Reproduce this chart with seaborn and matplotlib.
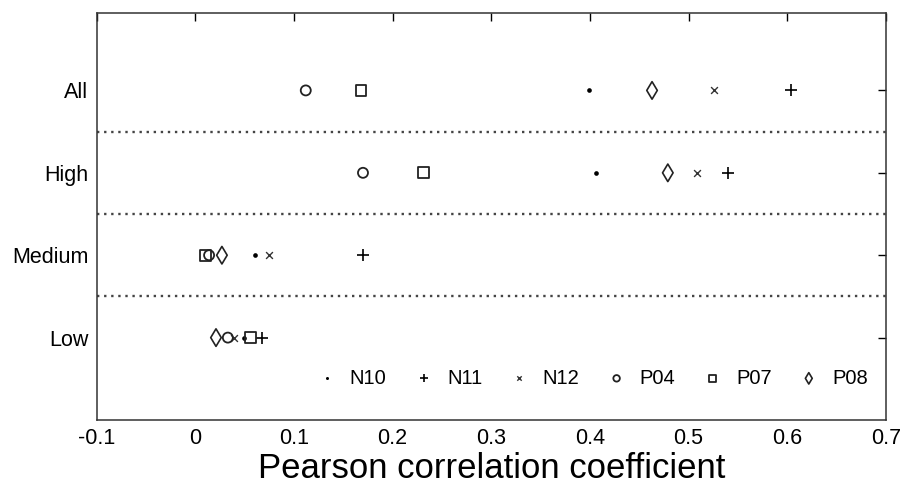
import matplotlib
matplotlib.use("Agg")
import matplotlib.pyplot as plt
import seaborn as sns
import pandas as pd

categories = ["Low", "Medium", "High", "All"]
series_names = ["N10", "N11", "N12", "P04", "P07", "P08"]
n10 = [0.049, 0.061, 0.406, 0.399]
n11 = [0.068, 0.170, 0.540, 0.604]
n12 = [0.039, 0.075, 0.509, 0.526]
p04 = [0.033, 0.014, 0.170, 0.112]
p07 = [0.056, 0.010, 0.231, 0.168]
p08 = [0.021, 0.027, 0.479, 0.463]
x_ticks = [-0.1, 0, 0.1, 0.2, 0.3, 0.4, 0.5, 0.6, 0.7]
x_tick_labels = ["-0.1", "0", "0.1", "0.2", "0.3", "0.4", "0.5", "0.6", "0.7"]

values = {"N10": n10, "N11": n11, "N12": n12, "P04": p04, "P07": p07, "P08": p08}
rows = []
for name in series_names:
    for i, cat in enumerate(categories):
        rows.append({"series": name, "category": cat, "pos": i + 1, "value": values[name][i]})
df = pd.DataFrame(rows)

sns.set_style("white")
plt.rcParams["font.family"] = ["Liberation Sans", "DejaVu Sans"]
plt.rcParams["text.color"] = "black"

fig = plt.figure(figsize=(9.03, 4.91), dpi=100)
ax = fig.add_axes([0.107, 0.1446, 0.874, 0.829])

styles = {
    "N10": dict(marker=".", s=45, color="black", linewidth=0),
    "N11": dict(marker="+", s=80, color="black", linewidth=1.2),
    "N12": dict(marker="x", s=24, color="#333333", linewidth=1.0),
    "P04": dict(marker="o", s=52, facecolors="none", edgecolor="#222222", linewidth=1.3),
    "P07": dict(marker="s", s=62, facecolors="none", edgecolor="#222222", linewidth=1.3),
    "P08": dict(marker="d", s=80, facecolors="none", edgecolor="#222222", linewidth=1.2),
}
for name in series_names:
    sub = df[df["series"] == name]
    sns.scatterplot(data=sub, x="value", y="pos", ax=ax, label=name, zorder=3, **styles[name])

for yy in [1.5, 2.5, 3.5]:
    ax.axhline(yy, color="#444444", linestyle=(0, (1.0, 2.0)), linewidth=1.7, zorder=1)

ax.set_xlim(-0.1, 0.7)
ax.set_ylim(0, 4.94)
ax.set_xticks(x_ticks)
ax.set_xticklabels(x_tick_labels)
ax.set_yticks([1, 2, 3, 4])
ax.set_yticklabels(categories)
ax.tick_params(direction="in", length=6, width=1, top=True, right=True,
               labelsize=15.5, colors="black", pad=6)
ax.tick_params(axis="x", pad=6)
for sp in ax.spines.values():
    sp.set_color("#333333")
    sp.set_linewidth(1.1)
ax.set_xlabel("Pearson correlation coefficient", fontsize=25, labelpad=2, color="black")
ax.set_ylabel("")

handles, labels = ax.get_legend_handles_labels()
ax.legend(handles, labels, ncol=6, frameon=False, fontsize=14.5, loc="lower right",
          bbox_to_anchor=(1.0, 0.035), markerscale=0.65, handletextpad=0.65,
          columnspacing=1.35, handlelength=1.0)

fig.savefig("out.png", dpi=100)
